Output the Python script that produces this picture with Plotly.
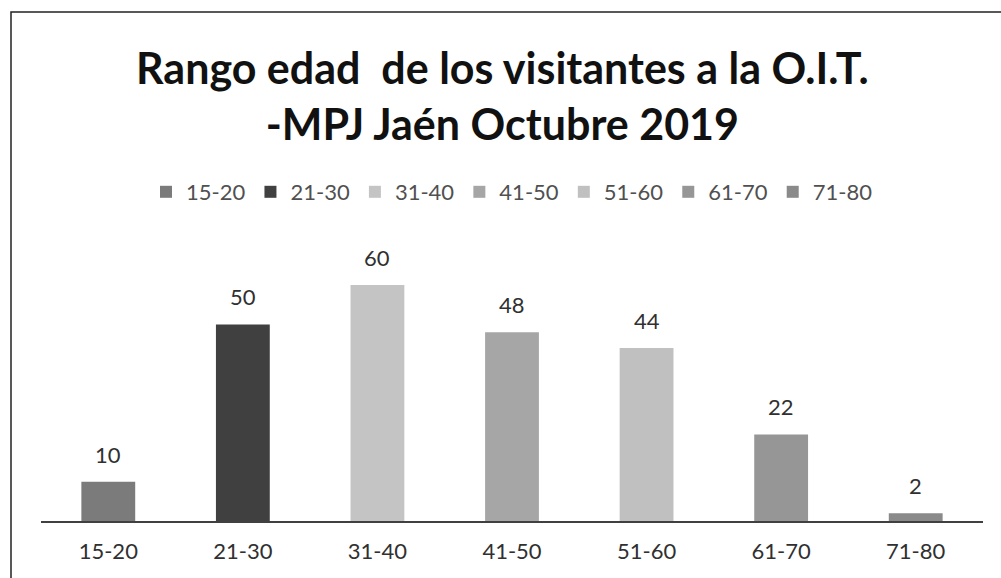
import plotly.graph_objects as go

# Visitor counts by age range
categories = ["15-20", "21-30", "31-40", "41-50", "51-60", "61-70", "71-80"]
visitors = [10, 50, 60, 48, 44, 22, 2]
bar_colors = ["#7b7b7b", "#404040", "#c4c4c4", "#a6a6a6", "#c0c0c0", "#969696", "#8a8a8a"]

FONT = "Lato"
W, H = 1001, 578
ML, MR, MT, MB = 41, 18, 230, 57
pw, ph = W - ML - MR, H - MT - MB

fig = go.Figure()
for cat, val, col in zip(categories, visitors, bar_colors):
    fig.add_trace(go.Bar(
        x=[cat], y=[val], name=cat,
        marker=dict(color=col, line=dict(width=0)),
        width=0.4,
    ))

# value labels above each bar
value_labels = [
    dict(x=cat, y=val, xref="x", yref="y", text=str(val),
         showarrow=False, yanchor="bottom", yshift=12,
         font=dict(family=FONT, size=22, color="#303030"))
    for cat, val in zip(categories, visitors)
]

def px_x(p):
    return (p - ML) / pw

def px_y(p):
    return (H - MB - p) / ph

fig.update_layout(
    width=W, height=H,
    margin=dict(l=ML, r=MR, t=MT, b=MB),
    paper_bgcolor="white", plot_bgcolor="white",
    barmode="overlay",
    showlegend=True,
    legend=dict(
        orientation="h", x=0.5, xanchor="center",
        y=px_y(192), yanchor="middle",
        font=dict(family=FONT, size=22, color="#505050"),
        itemwidth=30, traceorder="normal",
    ),
    xaxis=dict(
        categoryorder="array", categoryarray=categories,
        showline=True, linecolor="#404040", linewidth=1.5,
        showgrid=False, ticks="", ticklabelstandoff=10,
        tickfont=dict(family=FONT, size=22, color="#303030"),
        range=[-0.5, 6.5],
    ),
    yaxis=dict(visible=False, range=[0, 74], showgrid=False),
    annotations=value_labels + [
        dict(
            text="<b>Rango edad  de los visitantes a la O.I.T.<br>-MPJ Jaén Octubre 2019</b>",
            x=0.49, xref="paper", xanchor="center",
            y=px_y(95), yref="paper", yanchor="middle",
            showarrow=False,
            font=dict(family=FONT, size=43, color="#111111"),
        )
    ],
    shapes=[
        dict(type="rect", xref="paper", yref="paper",
             x0=px_x(11), x1=px_x(1006), y0=px_y(585), y1=px_y(12),
             line=dict(color="#222222", width=1.5), fillcolor="rgba(0,0,0,0)")
    ],
)

fig.write_html("out.html")
